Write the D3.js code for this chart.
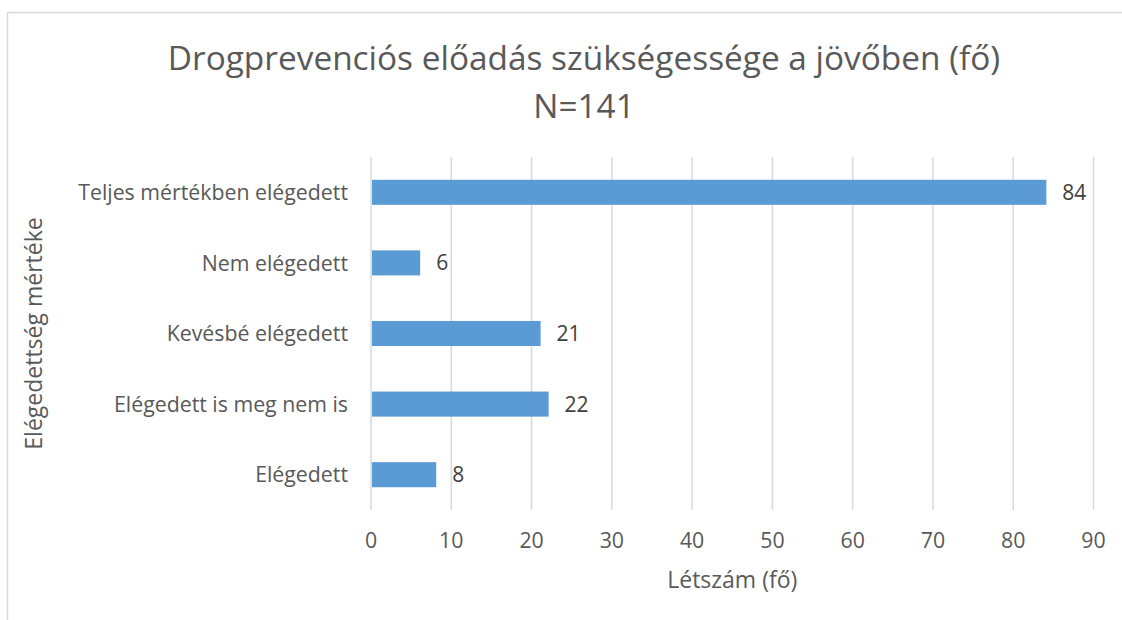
<!DOCTYPE html>
<html>
<head>
<meta charset="utf-8">
<script src="https://cdn.jsdelivr.net/npm/d3@7"></script>
<style>
  body { margin: 0; background: #fff; }
  text { font-family: "Open Sans", sans-serif; fill: #595959; }
</style>
</head>
<body>
<script>
var WIDTH = 1122;
var HEIGHT = 620;

// data (top to bottom as drawn)
var categories = ["Teljes mértékben elégedett", "Nem elégedett", "Kevésbé elégedett", "Elégedett is meg nem is", "Elégedett"];
var values = [84, 6, 21, 22, 8];
var xTicks = [0, 10, 20, 30, 40, 50, 60, 70, 80, 90];
var titleLines = ["Drogprevenciós előadás szükségessége a jövőben (fő)", "N=141"];
var xTitle = "Létszám (fő)";
var yTitle = "Elégedettség mértéke";

var margin = { left: 371, right: 1093.5, top: 157, bottom: 510 };

var svg = d3.select("body")
  .append("svg")
  .attr("width", WIDTH)
  .attr("height", HEIGHT);

// chart border (right and bottom fall outside the picture)
svg.append("rect")
  .attr("x", 7.5).attr("y", 12.5)
  .attr("width", WIDTH + 20).attr("height", HEIGHT + 20)
  .attr("fill", "none")
  .attr("stroke", "#d9d9d9")
  .attr("stroke-width", 1.5);

var x = d3.scaleLinear().domain([0, 90]).range([margin.left, margin.right]);
var y = d3.scaleBand().domain(categories).range([margin.top, margin.bottom]).paddingInner(0.645).paddingOuter(0.3225);

// gridlines
svg.selectAll("line.grid")
  .data(xTicks)
  .enter()
  .append("line")
  .classed("grid", true)
  .attr("x1", d => x(d)).attr("x2", d => x(d))
  .attr("y1", margin.top).attr("y2", margin.bottom)
  .attr("stroke", "#d9d9d9")
  .attr("stroke-width", 1.5);

// bars
svg.selectAll("rect.bar")
  .data(values)
  .enter()
  .append("rect")
  .classed("bar", true)
  .attr("x", x(0) + 1)
  .attr("y", (d, i) => y(categories[i]))
  .attr("width", d => x(d) - x(0))
  .attr("height", y.bandwidth())
  .attr("fill", "#5b9bd5");

// data labels
svg.selectAll("text.val")
  .data(values)
  .enter()
  .append("text")
  .classed("val", true)
  .attr("x", d => x(d) + 17)
  .attr("y", (d, i) => y(categories[i]) + y.bandwidth() / 2)
  .attr("dy", "0.36em")
  .style("font-size", "21px")
  .style("fill", "#404040")
  .text(d => d);

// category labels
svg.selectAll("text.cat")
  .data(categories)
  .enter()
  .append("text")
  .classed("cat", true)
  .attr("x", 348)
  .attr("y", d => y(d) + y.bandwidth() / 2)
  .attr("dy", "0.36em")
  .attr("text-anchor", "end")
  .style("font-size", "21.3px")
  .text(d => d);

// x tick labels
svg.selectAll("text.tick")
  .data(xTicks)
  .enter()
  .append("text")
  .classed("tick", true)
  .attr("x", d => x(d))
  .attr("y", 548)
  .attr("text-anchor", "middle")
  .style("font-size", "21.3px")
  .text(d => d);

// axis titles
svg.append("text")
  .attr("x", (margin.left + margin.right) / 2)
  .attr("y", 588)
  .attr("text-anchor", "middle")
  .style("font-size", "23px")
  .text(xTitle);

svg.append("text")
  .attr("transform", "translate(42," + (margin.top + margin.bottom) / 2 + ") rotate(-90)")
  .attr("text-anchor", "middle")
  .style("font-size", "23px")
  .text(yTitle);

// title
svg.selectAll("text.title")
  .data(titleLines)
  .enter()
  .append("text")
  .classed("title", true)
  .attr("x", 584)
  .attr("y", (d, i) => 70 + i * 48)
  .attr("text-anchor", "middle")
  .style("font-size", "33.4px")
  .text(d => d);
</script>
</body>
</html>
